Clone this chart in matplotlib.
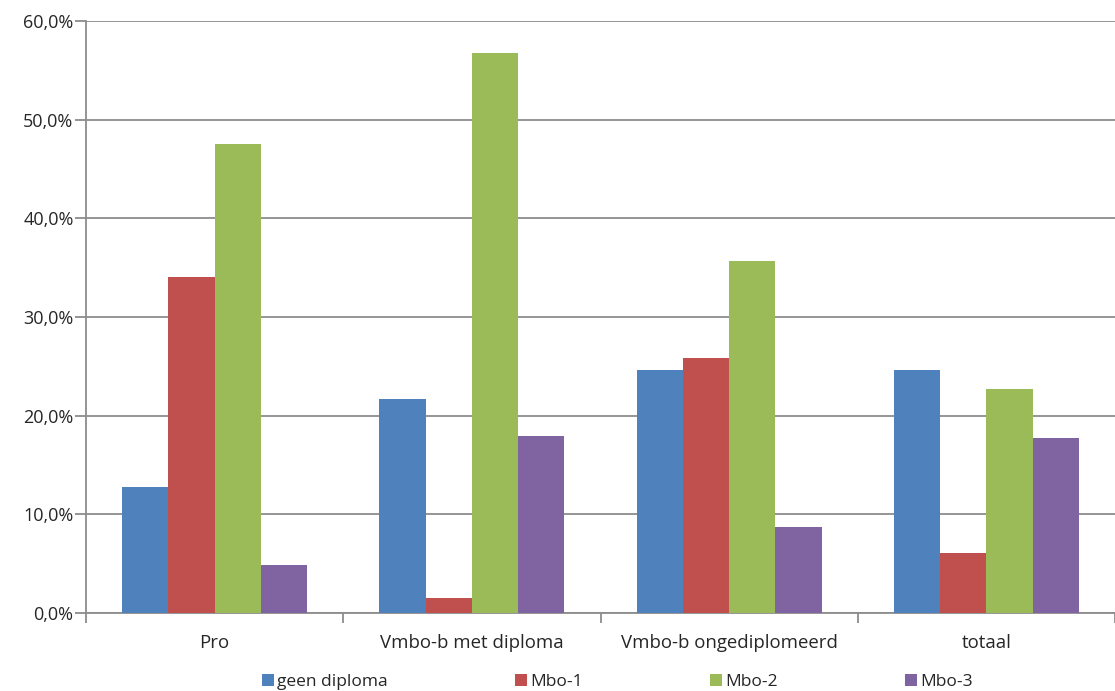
import matplotlib
matplotlib.use("Agg")
import matplotlib.pyplot as plt
import numpy as np

categories = ["Pro", "Vmbo-b met diploma", "Vmbo-b ongediplomeerd", "totaal"]
series_names = ["geen diploma", "Mbo-1", "Mbo-2", "Mbo-3"]
geen_diploma = [12.8, 21.7, 24.6, 24.6]
mbo1 = [34.1, 1.5, 25.8, 6.1]
mbo2 = [47.5, 56.8, 35.7, 22.7]
mbo3 = [4.9, 17.9, 8.7, 17.7]
y_ticks = [0, 10, 20, 30, 40, 50, 60]
y_tick_labels = ["0,0%", "10,0%", "20,0%", "30,0%", "40,0%", "50,0%", "60,0%"]
colors = ["#4F81BD", "#C0504D", "#9BBB59", "#8064A2"]

plt.rcParams['font.family'] = ['Open Sans', 'DejaVu Sans']

fig = plt.figure(figsize=(11.15, 6.91), dpi=100)
ax = fig.add_axes([86/1115, 1 - 613/691, (1115 - 86)/1115, (613 - 21)/691])

x = np.arange(len(categories))
bw = 0.18
all_series = [geen_diploma, mbo1, mbo2, mbo3]
for i, (vals, name) in enumerate(zip(all_series, series_names)):
    ax.bar(x + (i - 1.5) * bw, vals, width=bw, color=colors[i], label=name, zorder=3)

ax.set_xlim(-0.5, len(categories) - 0.5)
ax.set_ylim(0, 60)
ax.set_yticks(y_ticks)
ax.set_yticklabels(y_tick_labels, fontsize=13, color="#262626")
ax.yaxis.grid(True, color="#8c8c8c", linewidth=1.3, zorder=0)
ax.set_axisbelow(True)

# category labels at centers, ticks at boundaries
ax.set_xticks(x)
ax.set_xticklabels(categories, fontsize=13.4, color="#262626")
ax.tick_params(axis='x', length=0, pad=15)
ax.set_xticks(np.arange(-0.5, len(categories) + 0.5, 1.0), minor=True)
ax.tick_params(axis='x', which='minor', length=7, color="#8c8c8c", width=1.3)
ax.tick_params(axis='y', length=8, color="#8c8c8c", width=1.3, pad=1)

for s in ['top', 'right']:
    ax.spines[s].set_visible(False)
for s in ['left', 'bottom']:
    ax.spines[s].set_color("#8c8c8c")
    ax.spines[s].set_linewidth(1.3)

leg = ax.legend(loc='center', bbox_to_anchor=(0.5165, -0.117), ncol=4, frameon=False,
                fontsize=12.5, handlelength=0.7, handleheight=0.7, handletextpad=0.15,
                columnspacing=7.35)
for t in leg.get_texts():
    t.set_color("#262626")

fig.savefig("out.png", dpi=100)
